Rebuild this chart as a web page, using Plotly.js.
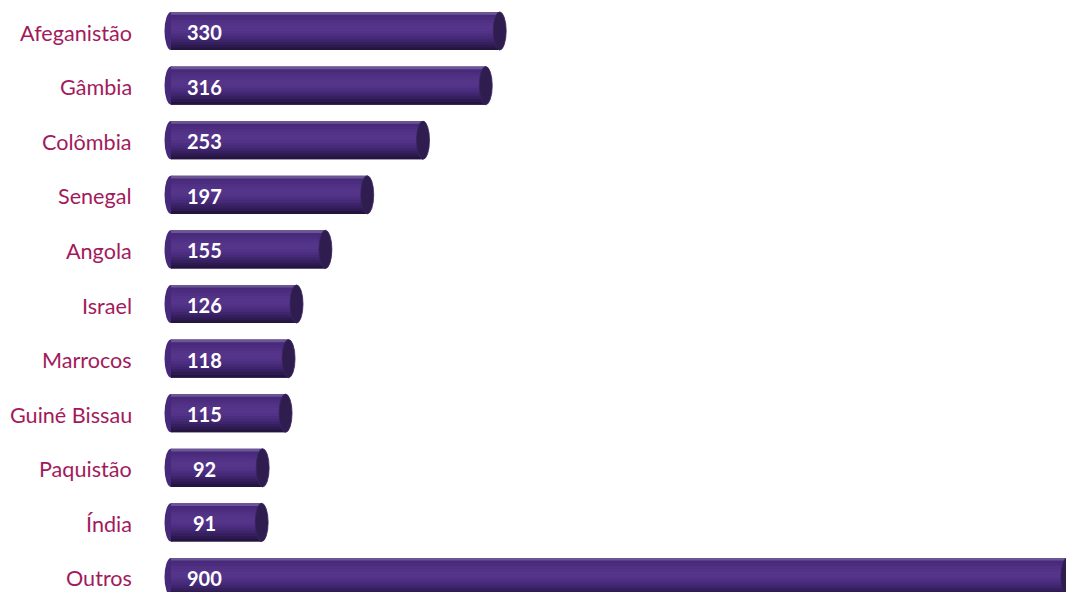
<!DOCTYPE html>
<html>
<head>
<meta charset="utf-8">
<script src="https://cdn.plot.ly/plotly-3.0.1.min.js"></script>
<style>html,body{margin:0;padding:0;background:#fff;}#chart{width:1066px;height:592px;}</style>
</head>
<body>
<div id="chart"></div>
<script>
const categories = ['Afeganistão','Gâmbia','Colômbia','Senegal','Angola','Israel','Marrocos','Guiné Bissau','Paquistão','Índia','Outros'];
const values = [330,316,253,197,155,126,118,115,92,91,900];

const stripColors = ['#6a5692','#48297b','#4b2c7f','#4f3083','#533387','#55358a','#553589','#513286','#4c2e80','#452a77','#3e246b','#361f5e','#2d1a4f','#241540'];
const barW = 0.70;
const sw = barW / stripColors.length;

const baseTrace = {
  type: 'bar', orientation: 'h', x: values, y: categories,
  width: barW, offset: -barW/2,
  marker: {color: '#452a78', line: {width: 0}}, hoverinfo: 'skip', showlegend: false
};
const traces = [baseTrace].concat(stripColors.map((c, k) => ({
  type: 'bar', orientation: 'h',
  x: values, y: categories,
  width: (k === stripColors.length - 1 ? sw : sw * 1.5), offset: -barW/2 + k*sw,
  marker: {color: c, line: {width: 0}},
  hoverinfo: 'skip', showlegend: false
})));

const shapes = [];
const annotations = [];
categories.forEach((cat, i) => {
  shapes.push({type:'circle', xref:'x', yref:'y', xsizemode:'pixel', xanchor:0, x0:-6.5, x1:6.5,
    y0:i-barW/2, y1:i+barW/2, fillcolor:'#46297a', line:{width:0}, layer:'below'});
  shapes.push({type:'circle', xref:'x', yref:'y', xsizemode:'pixel', xanchor:values[i], x0:-6.5, x1:6.5,
    y0:i-barW/2, y1:i+barW/2, fillcolor:'#2f1d50', line:{width:0.8, color:'#3a2560'}, layer:'above'});
  annotations.push({x:0, xref:'x', y:cat, yref:'y', xshift:33, yshift:-1, xanchor:'center', showarrow:false,
    text:String(values[i]), font:{family:'Lato, sans-serif', size:20, color:'#ffffff', weight:'bold'}});
  annotations.push({x:0, xref:'paper', y:cat, yref:'y', xshift:-16, yshift:-1.5, xanchor:'right', showarrow:false,
    text:cat, font:{family:'Lato, sans-serif', size:21.6, color:'#a31a5c'}});
});

const layout = {
  width:1066, height:592,
  margin:{l:150, r:0, t:0, b:0, pad:0},
  paper_bgcolor:'#ffffff', plot_bgcolor:'#ffffff',
  barmode:'overlay',
  xaxis:{range:[-21.1, 898.6], visible:false, fixedrange:true},
  yaxis:{type:'category', range:[10.275, -0.568], showgrid:false, zeroline:false, showline:false, ticks:'',
    showticklabels:false, fixedrange:true},
  shapes: shapes,
  annotations: annotations,
  showlegend:false
};

Plotly.newPlot('chart', traces, layout, {displayModeBar:false, staticPlot:true});
</script>
</body>
</html>
